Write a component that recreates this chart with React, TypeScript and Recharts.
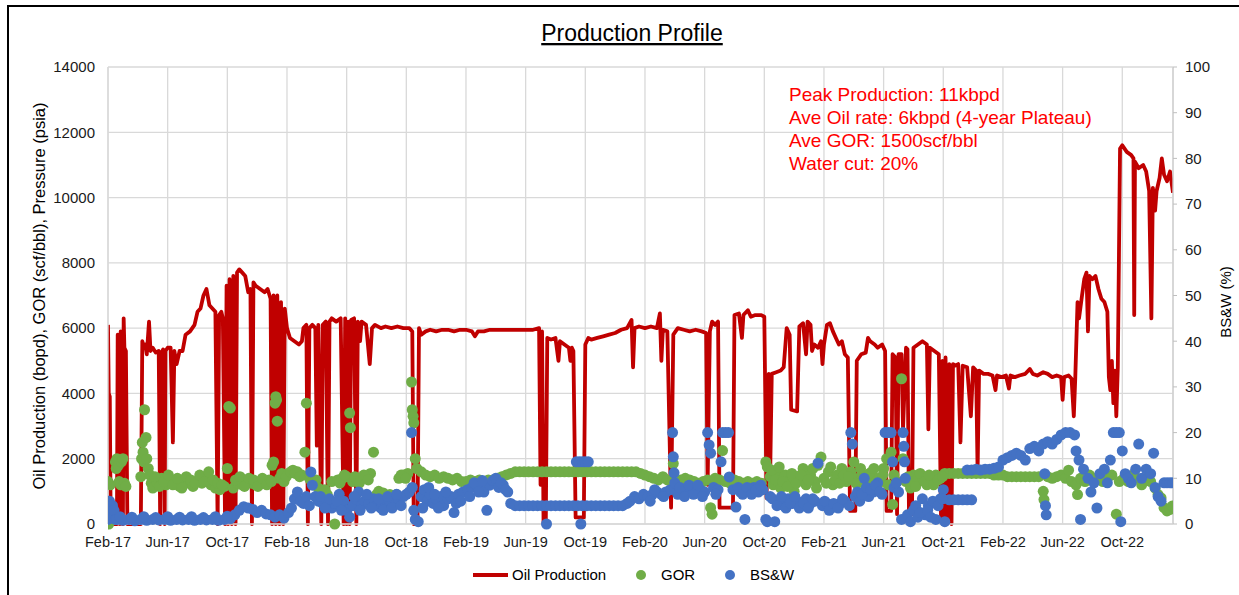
import React from 'react';
import { ComposedChart, Line, Scatter, XAxis, YAxis, CartesianGrid } from 'recharts';

// x values are months counted from Feb-17
const monthTicks = [0, 4, 8, 12, 16, 20, 24, 28, 32, 36, 40, 44, 48, 52, 56, 60, 64, 68];
const monthLabels = [
  'Feb-17', 'Jun-17', 'Oct-17', 'Feb-18', 'Jun-18', 'Oct-18', 'Feb-19', 'Jun-19', 'Oct-19',
  'Feb-20', 'Jun-20', 'Oct-20', 'Feb-21', 'Jun-21', 'Oct-21', 'Feb-22', 'Jun-22', 'Oct-22',
];
const leftTicks = [0, 2000, 4000, 6000, 8000, 10000, 12000, 14000];
const rightTicks = [0, 10, 20, 30, 40, 50, 60, 70, 80, 90, 100];

// Oil production (bopd)
const oilProduction = [
  [0, 6100], [0.05, 4000], [0.12, 3900], [0.18, 0], [0.6, 0], [0.65, 5800], [0.75, 5600], [0.8, 0],
  [0.85, 5900], [0.95, 5800], [1.0, 0], [1.05, 6300], [1.1, 5400], [1.2, 5300], [1.3, 0], [2.2, 0],
  [2.3, 5600], [2.4, 5400], [2.5, 5500], [2.6, 5200], [2.75, 6200], [2.85, 5300], [3.0, 5400], [3.2, 5250],
  [3.4, 5300], [3.5, 0], [3.55, 5200], [3.7, 5350], [3.8, 0], [3.85, 5300], [4.0, 5400], [4.2, 5400],
  [4.35, 2500], [4.45, 5300], [4.6, 4900], [4.8, 5300], [5.0, 5300], [5.2, 5800], [5.5, 5900], [5.8, 6100],
  [6.0, 6500], [6.2, 6600], [6.4, 7000], [6.6, 7200], [6.8, 6700], [7.0, 6600], [7.2, 6500], [7.35, 0],
  [7.45, 6400], [7.6, 6500], [7.7, 6300], [7.85, 0], [7.95, 7300], [8.05, 0], [8.15, 7500], [8.3, 0],
  [8.4, 7600], [8.55, 0], [8.65, 7700], [8.8, 7800], [9.0, 7700], [9.2, 7600], [9.4, 7100], [9.55, 7200],
  [9.65, 0], [9.75, 7400], [9.9, 7300], [10.2, 7200], [10.5, 7100], [10.7, 7200], [10.9, 6900], [11.0, 0],
  [11.1, 7000], [11.25, 0], [11.35, 7000], [11.5, 0], [11.6, 6800], [11.75, 0], [11.85, 6600], [12.0, 6000],
  [12.2, 5700], [12.5, 5600], [12.8, 5500], [13.0, 5600], [13.1, 6000], [13.3, 6100], [13.4, 0], [13.5, 6000],
  [13.7, 6100], [13.9, 6000], [14.0, 2400], [14.1, 6100], [14.3, 0], [14.4, 6100], [14.6, 6200], [14.75, 0],
  [14.85, 6200], [15.0, 6300], [15.3, 6200], [15.6, 6300], [15.8, 0], [15.9, 6300], [16.0, 0], [16.1, 6200],
  [16.2, 0], [16.3, 6250], [16.5, 6300], [16.65, 0], [16.75, 6200], [16.9, 5600], [17.0, 6200], [17.3, 6100],
  [17.55, 4900], [17.7, 6000], [17.9, 6100], [18.3, 6000], [18.6, 6050], [19.0, 6000], [19.4, 6050], [19.8, 6000],
  [20.2, 6000], [20.4, 5900], [20.5, 0], [20.75, 0], [20.85, 6000], [21.0, 5800], [21.3, 5900], [21.6, 5950],
  [22.0, 5900], [22.4, 5950], [22.8, 5950], [23.2, 5900], [23.6, 5950], [24.0, 5950], [24.4, 5900], [24.6, 5750],
  [24.8, 5900], [25.2, 5900], [25.6, 5950], [26.0, 5950], [26.5, 5950], [27.0, 5950], [27.5, 5950], [28.0, 5950],
  [28.5, 5950], [28.9, 6000], [29.0, 1200], [29.1, 5900], [29.2, 0], [29.35, 0], [29.45, 5700], [29.7, 5650],
  [30.0, 5700], [30.2, 5000], [30.3, 5600], [30.6, 5500], [30.9, 5400], [31.0, 5000], [31.1, 5400], [31.2, 5300],
  [31.35, 200], [31.9, 200], [32.0, 5500], [32.2, 5700], [32.4, 5650], [32.8, 5700], [33.2, 5750], [33.6, 5800],
  [34.0, 5850], [34.4, 5950], [34.8, 6000], [35.1, 6250], [35.2, 4800], [35.3, 6000], [35.6, 6050], [36.0, 6000],
  [36.4, 6050], [36.8, 6000], [37.0, 6450], [37.1, 5000], [37.2, 5950], [37.5, 5900], [37.75, 500], [37.9, 5800],
  [38.2, 6000], [38.6, 5950], [39.0, 5900], [39.4, 5950], [39.8, 5900], [40.1, 5850], [40.2, 1200], [40.35, 5900],
  [40.5, 6200], [40.7, 6100], [40.9, 6200], [41.0, 500], [41.9, 500], [42.0, 6400], [42.3, 6450], [42.5, 5700],
  [42.6, 6400], [42.9, 6550], [43.1, 6350], [43.4, 6400], [43.8, 6400], [44.0, 6350], [44.15, 800], [44.3, 4600],
  [44.4, 1700], [44.5, 4600], [44.8, 4650], [45.1, 4700], [45.3, 4800], [45.5, 6000], [45.7, 5800], [45.8, 3500],
  [46.2, 3450], [46.35, 6050], [46.6, 6150], [46.8, 5200], [46.9, 6200], [47.1, 6100], [47.2, 5300], [47.35, 5500],
  [47.6, 5400], [47.8, 5600], [47.9, 4900], [48.0, 5500], [48.2, 6100], [48.4, 6150], [48.6, 5900], [48.8, 5700],
  [49.0, 5500], [49.2, 5600], [49.4, 5200], [49.6, 5100], [49.75, 400], [50.1, 400], [50.2, 5000], [50.5, 5200],
  [50.8, 5250], [50.95, 5700], [51.1, 5600], [51.4, 5500], [51.6, 5400], [51.9, 5500], [52.1, 5300], [52.2, 400],
  [52.5, 400], [52.6, 5200], [52.8, 5100], [52.9, 300], [53.0, 5200], [53.2, 5200], [53.3, 2900], [53.5, 5400],
  [53.6, 5350], [53.7, 300], [53.9, 300], [54.0, 5400], [54.3, 5500], [54.6, 5600], [54.9, 5500], [55.0, 2900],
  [55.1, 5400], [55.4, 5300], [55.7, 5200], [55.85, 100], [55.95, 5000], [56.05, 0], [56.15, 5100], [56.3, 100],
  [56.4, 4900], [56.55, 0], [56.65, 4900], [56.8, 4850], [57.0, 4900], [57.15, 2500], [57.3, 4850], [57.6, 4800],
  [57.85, 3300], [58.0, 4800], [58.2, 4700], [58.3, 1600], [58.4, 4700], [58.7, 4600], [59.0, 4600], [59.3, 4550],
  [59.5, 4100], [59.6, 4550], [59.9, 4500], [60.2, 4550], [60.4, 4150], [60.5, 4550], [60.8, 4500], [61.1, 4550],
  [61.5, 4600], [61.8, 4750], [62.0, 4600], [62.3, 4550], [62.7, 4650], [63.0, 4600], [63.3, 4500], [63.6, 4550],
  [63.9, 4500], [64.0, 3800], [64.1, 4500], [64.4, 4550], [64.6, 4450], [64.75, 3300], [64.85, 4500], [65.0, 6800],
  [65.1, 6300], [65.3, 7000], [65.45, 7500], [65.6, 7700], [65.7, 5900], [65.8, 7600], [66.0, 7500], [66.2, 7600],
  [66.4, 7200], [66.6, 6900], [66.8, 6800], [67.0, 6500], [67.1, 4500], [67.2, 4100], [67.3, 5000], [67.4, 3700],
  [67.5, 4700], [67.6, 3300], [67.7, 4800], [67.85, 11500], [68.0, 11600], [68.3, 11400], [68.6, 11300], [68.75, 11200],
  [68.8, 6400], [68.85, 11100], [69.1, 10900], [69.4, 11000], [69.6, 10800], [69.8, 10200], [69.95, 6300], [70.05, 10300],
  [70.2, 9600], [70.3, 10200], [70.5, 10600], [70.65, 11200], [70.8, 10700], [71.0, 10500], [71.2, 10800], [71.4, 10150],
];

// GOR (scf/bbl)
const gor = [
  [0, 1300], [0.05, 0], [0.15, 1200], [0.5, 1900], [0.55, 1700], [0.6, 2000], [0.7, 1800], [0.75, 1300],
  [0.85, 1200], [0.9, 1900], [1.0, 2000], [1.1, 1250], [1.2, 1150], [2.2, 1450], [2.25, 2000], [2.3, 2500],
  [2.35, 2200], [2.4, 1900], [2.45, 3500], [2.55, 2650], [2.6, 2000], [2.7, 1700], [2.8, 1500], [2.9, 1250],
  [3.0, 1100], [3.3, 1250], [3.6, 1400], [3.9, 1200], [4.2, 1350], [4.5, 1250], [4.8, 1150], [5.1, 1300],
  [5.4, 1250], [5.7, 1150], [6.0, 1300], [6.3, 1250], [6.6, 1450], [6.9, 1200], [7.2, 1100], [7.5, 1050],
  [7.8, 1150], [8.0, 1700], [8.1, 3600], [8.2, 3550], [8.4, 1100], [8.7, 1250], [9.0, 1200], [9.3, 1300],
  [9.6, 1250], [9.9, 1200], [10.2, 1300], [10.5, 1250], [10.8, 1350], [11.0, 1800], [11.1, 1900], [11.2, 3700],
  [11.25, 3900], [11.3, 3800], [11.35, 3150], [11.5, 1400], [11.8, 1300], [12.1, 1550], [12.4, 1650], [12.7, 1600],
  [13.0, 1500], [13.2, 2200], [13.3, 3700], [13.5, 1400], [13.8, 1200], [14.1, 1100], [14.4, 950], [14.7, 900],
  [15.0, 1300], [15.2, 0], [15.4, 1350], [15.7, 1400], [16.0, 1450], [16.2, 3400], [16.25, 2950], [16.4, 1300],
  [16.7, 1350], [17.0, 1400], [17.3, 1450], [17.6, 1550], [17.8, 2200], [18.0, 900], [18.3, 850], [18.6, 800],
  [18.9, 900], [19.2, 800], [19.5, 1400], [19.8, 1500], [20.1, 1550], [20.35, 4350], [20.4, 3500], [20.45, 3300],
  [20.5, 3100], [20.6, 2000], [20.7, 1700], [21.0, 1600], [21.3, 1500], [21.6, 1450], [21.9, 1500], [22.2, 1400],
  [22.5, 1450], [22.8, 1400], [23.1, 1350], [23.4, 1400], [23.7, 1300], [24.0, 1300], [24.3, 1350], [24.6, 1300],
  [24.9, 1350], [25.2, 1300], [25.5, 1350], [25.8, 1350], [26.1, 1400], [26.4, 1450], [26.7, 1500], [27.0, 1550],
  [27.3, 1600], [27.6, 1600], [27.9, 1600], [28.2, 1600], [28.5, 1600], [28.8, 1600], [29.1, 1600], [29.4, 1600],
  [29.7, 1600], [30.0, 1600], [30.3, 1600], [30.6, 1600], [30.9, 1600], [31.2, 1600], [31.5, 1600], [31.8, 1600],
  [32.1, 1600], [32.4, 1600], [32.7, 1600], [33.0, 1600], [33.3, 1600], [33.6, 1600], [33.9, 1600], [34.2, 1600],
  [34.5, 1600], [34.8, 1600], [35.1, 1600], [35.4, 1600], [35.7, 1550], [36.0, 1500], [36.3, 1450], [36.6, 1400],
  [36.9, 1350], [37.2, 1450], [37.5, 1350], [37.8, 1300], [37.9, 1850], [38.1, 1200], [38.4, 1350], [38.7, 1400],
  [39.0, 1350], [39.3, 1300], [39.6, 1250], [39.9, 1300], [40.2, 1350], [40.4, 500], [40.5, 300], [40.7, 1400],
  [41.0, 1350], [41.2, 2250], [41.4, 1300], [41.7, 1250], [42.0, 1350], [42.3, 1300], [42.6, 1250], [42.9, 1300],
  [43.2, 1250], [43.5, 1300], [43.8, 1250], [44.1, 1900], [44.2, 1750], [44.4, 1450], [44.6, 1200], [44.9, 1600],
  [45.1, 1100], [45.4, 1500], [45.7, 1300], [46.0, 1000], [46.3, 1400], [46.6, 1700], [46.8, 1200], [47.1, 1500],
  [47.4, 1300], [47.6, 1800], [47.8, 2050], [48.0, 1400], [48.3, 1600], [48.6, 1200], [48.9, 1500], [49.2, 1700],
  [49.5, 1300], [49.8, 1600], [50.0, 1900], [50.3, 1400], [50.6, 1500], [50.9, 1300], [51.2, 1600], [51.5, 1400],
  [51.8, 1300], [52.0, 1700], [52.2, 2000], [52.3, 1200], [52.5, 2200], [52.6, 600], [52.7, 1500], [52.9, 1300],
  [53.2, 4450], [53.3, 2000], [53.5, 1300], [53.8, 1100], [54.0, 1500], [54.3, 1300], [54.6, 1400], [54.9, 1200],
  [55.2, 1350], [55.5, 1500], [55.8, 1400], [56.1, 1550], [56.4, 1550], [56.7, 1550], [57.0, 1550], [57.3, 1550],
  [57.6, 1550], [57.9, 1550], [58.2, 1550], [58.5, 1550], [58.8, 1550], [59.1, 1550], [59.4, 1500], [59.7, 1500],
  [60.0, 1500], [60.3, 1450], [60.6, 1450], [60.9, 1450], [61.2, 1450], [61.5, 1450], [61.8, 1450], [62.1, 1450],
  [62.4, 1450], [62.7, 1000], [62.75, 750], [63.0, 1450], [63.3, 1400], [63.6, 1450], [63.9, 1500], [64.2, 1400],
  [64.4, 1650], [64.6, 1300], [64.9, 1200], [65.0, 900], [65.2, 1400], [65.5, 1300], [65.8, 1500], [66.1, 1350],
  [66.4, 1450], [66.7, 1300], [67.0, 1400], [67.3, 1500], [67.6, 300], [67.8, 1300], [68.1, 1400], [68.4, 1300],
  [68.7, 1500], [69.0, 1400], [69.3, 1200], [69.6, 1400], [69.9, 1300], [70.2, 1100], [70.4, 900], [70.6, 800],
  [70.8, 500], [71.0, 400], [71.2, 450], [71.35, 550],
  [3.15, 1450], [3.45, 1150], [3.75, 1300], [4.05, 1500], [4.35, 1200], [4.65, 1400], [4.95, 1100], [5.25, 1450],
  [5.55, 1350], [5.85, 1250], [6.15, 1500], [6.45, 1300], [6.75, 1600], [7.05, 1350], [7.35, 1250], [7.65, 1200],
  [8.55, 1350], [8.85, 1450], [9.15, 1150], [9.45, 1400], [9.75, 1350], [10.05, 1150], [10.35, 1400], [10.65, 1200],
  [10.95, 1300], [11.65, 1550], [11.95, 1450], [12.25, 1600], [12.55, 1550], [12.85, 1450], [13.65, 1300], [13.95, 1350],
  [14.25, 1000], [14.55, 1050], [15.55, 1250], [15.85, 1500], [16.55, 1450], [16.85, 1250], [17.15, 1500], [17.45, 1350],
  [18.15, 1000], [18.45, 950], [18.75, 850], [19.05, 750], [19.35, 900], [19.65, 1500], [19.95, 1400],
  [44.5, 1650], [44.75, 1350], [45.0, 1750], [45.25, 1300], [45.55, 1150], [45.85, 1550], [46.15, 1250], [46.45, 1500],
  [46.95, 1350], [47.25, 1700], [47.5, 1100], [48.15, 1250], [48.45, 1750], [48.75, 1350], [49.05, 1250], [49.35, 1500],
  [49.65, 1450], [50.15, 1250], [50.45, 1700], [50.75, 1200], [51.05, 1550], [51.35, 1700], [51.65, 1250], [51.95, 1500],
  [53.65, 1450], [53.95, 1300], [54.15, 1150], [54.45, 1550], [54.75, 1300], [55.05, 1500], [55.35, 1200], [55.65, 1350],
  [55.95, 1450],
];

// BS&W (%)
const bsw = [
  [0, 1], [0.05, 3.7], [0.1, 5], [0.15, 2], [0.3, 4], [0.4, 3], [0.5, 1], [0.6, 1], [1.0, 0.8], [1.4, 1],
  [1.8, 0.7], [2.2, 1], [2.6, 0.8], [3.0, 1], [3.4, 0.9], [3.8, 1], [4.2, 0.8], [4.6, 1], [5.0, 0.9], [5.4, 1],
  [5.8, 0.8], [6.2, 1], [6.6, 0.9], [7.0, 1], [7.4, 0.8], [7.8, 1], [8.2, 1.2], [8.5, 2], [8.8, 3], [9.1, 3.8],
  [9.4, 3.5], [9.7, 3.2], [10.0, 2.5], [10.3, 3.0], [10.6, 2.2], [10.9, 2.0], [11.2, 1.5], [11.5, 2.0], [11.8, 1.3],
  [12.1, 2.5], [12.3, 3.5], [12.5, 5.5], [12.7, 7.0], [12.9, 5.0], [13.1, 4.5], [13.3, 6.0], [13.5, 4.0], [13.6, 11.4],
  [13.7, 8.5], [13.9, 6.0], [14.1, 5.0], [14.4, 4.5], [14.7, 5.0], [15.0, 3.5], [15.2, 4.5], [15.5, 6.5], [15.8, 5.0],
  [16.0, 3.0], [16.2, 1.5], [16.4, 4.0], [16.6, 5.5], [16.8, 7.0], [17.0, 4.0], [17.2, 5.0], [17.5, 4.5], [17.8, 5.5],
  [18.0, 4.0], [18.3, 3.5], [18.6, 4.5], [18.9, 5.0], [19.2, 5.5], [19.5, 5.0], [19.8, 6.0], [20.0, 6.5], [20.2, 7.0],
  [20.35, 20], [20.4, 8.0], [20.5, 3.0], [20.6, 1.0], [20.8, 0.5], [21.0, 6.0], [21.2, 7.5], [21.4, 5.0], [21.6, 6.5],
  [21.8, 4.5], [22.0, 5.5], [22.3, 6.0], [22.5, 4.0], [22.8, 5.5], [23.0, 6.0], [23.2, 2.5], [23.5, 6.5], [23.8, 7.0],
  [24.1, 7.5], [24.4, 8.0], [24.7, 8.5], [25.0, 9.0], [25.2, 7.0], [25.4, 3.0], [25.6, 8.5], [25.8, 9.5], [26.0, 10.0],
  [26.2, 8.0], [26.5, 8.5], [26.8, 7.0], [27.0, 4.5], [27.3, 4], [27.6, 4], [27.9, 4], [28.2, 4], [28.5, 4], [28.8, 4],
  [29.1, 4], [29.4, 0], [29.4, 4], [29.7, 4], [30.0, 4], [30.3, 4], [30.6, 4], [30.9, 4], [31.2, 4], [31.4, 13.6],
  [31.6, 13.6], [31.7, 0], [31.8, 13.6], [32.0, 13.6], [32.2, 13.6], [31.5, 4], [31.8, 4], [32.1, 4], [32.4, 4],
  [32.7, 4], [33.0, 4], [33.3, 4], [33.6, 4], [33.9, 4], [34.2, 4], [34.5, 4], [34.8, 4.5], [35.0, 5.0], [35.3, 6.0],
  [35.6, 5.5], [35.9, 6.5], [36.2, 6.0], [36.5, 6.5], [36.8, 7.0], [37.1, 6.5], [37.4, 7.0], [37.7, 7.5], [37.85, 20],
  [37.9, 14.7], [37.95, 11.2], [38.0, 9.0], [38.2, 6.5], [38.5, 7.5], [38.8, 7.0], [39.1, 7.5], [39.4, 8.0], [39.7, 7.5],
  [40.0, 7.0], [40.2, 20], [40.3, 17.3], [40.4, 15.5], [40.6, 8.0], [40.9, 7.5], [41.1, 13.6], [41.2, 20], [41.4, 20],
  [41.6, 20], [41.65, 10.3], [41.9, 7.5], [42.1, 3.7], [42.4, 7.0], [42.7, 1.0], [43.0, 7.5], [43.3, 8.0], [43.6, 7.0],
  [43.9, 7.5], [44.1, 1.0], [44.2, 0.5], [44.4, 6.0], [44.7, 0.5], [45.0, 5.0], [45.3, 4.0], [45.6, 5.5], [45.9, 4.5],
  [46.2, 5.0], [46.5, 4.0], [46.8, 5.5], [47.1, 4.5], [47.4, 5.0], [47.6, 13.3], [47.9, 4.0], [48.2, 4.5], [48.5, 3.5],
  [48.8, 4.0], [49.1, 4.5], [49.4, 5.0], [49.7, 4.0], [49.8, 20], [49.9, 17.5], [50.1, 6.0], [50.4, 5.0], [50.7, 10.0],
  [51.0, 6.0], [51.3, 7.0], [51.6, 9.0], [51.9, 6.5], [52.1, 20], [52.3, 20], [52.5, 20], [52.6, 13.6], [52.7, 8.0],
  [53.0, 7.0], [53.2, 1.0], [53.3, 20], [53.35, 17], [53.4, 13.6], [53.45, 10], [53.6, 2.0], [53.8, 0.5], [54.0, 3.0],
  [54.3, 1.5], [54.6, 5.5], [54.8, 2.0], [55.0, 4.0], [55.3, 5.0], [55.5, 1.0], [55.8, 5.5], [56.0, 7.5], [56.1, 0.5],
  [56.4, 5.3], [56.7, 5.3], [57.0, 5.3], [57.3, 5.3], [57.6, 5.3], [57.9, 5.3], [57.6, 11.8], [57.9, 11.8], [58.2, 12.0],
  [58.5, 11.8], [58.8, 12.0], [59.1, 12.0], [59.4, 12.2], [59.7, 12.5], [60.0, 14.0], [60.3, 14.5], [60.6, 15.0],
  [60.9, 15.5], [61.2, 15.0], [61.5, 14.0], [61.8, 16.5], [62.1, 17.0], [62.4, 16.0], [62.7, 17.5], [62.8, 11.0],
  [62.85, 4.0], [62.9, 2.0], [63.0, 18.0], [63.3, 17.5], [63.6, 18.5], [63.9, 19.5], [64.2, 20], [64.5, 20], [64.8, 19.5],
  [64.9, 16.0], [65.1, 14.0], [65.2, 1.0], [65.4, 12.0], [65.7, 10.0], [65.9, 7.0], [66.1, 9.0], [66.3, 3.5], [66.5, 11.0],
  [66.8, 12.0], [67.0, 9.0], [67.2, 14.0], [67.4, 20], [67.6, 20], [67.8, 20], [67.9, 0.5], [68.0, 16.0], [68.2, 11.0],
  [68.4, 10.0], [68.6, 9.0], [68.9, 12.0], [69.1, 17.5], [69.3, 10.0], [69.6, 12.0], [69.9, 11.0], [70.1, 15.5],
  [70.2, 8.0], [70.4, 6.0], [70.6, 5.0], [70.8, 9.0], [71.0, 9.0], [71.2, 9.0], [71.4, 9.0],
  [0.8, 1.6], [1.6, 1.5], [2.4, 1.6], [3.2, 1.4], [4.0, 1.6], [4.8, 1.5], [5.6, 1.6], [6.4, 1.4], [7.2, 1.6], [8.0, 1.7],
  [14.25, 6.0], [14.55, 3.5], [14.85, 5.5], [15.35, 5.0], [15.65, 3.0], [16.5, 6.0], [16.9, 3.0], [17.35, 6.5],
  [17.65, 3.5], [18.15, 5.5], [18.45, 3.0], [18.75, 6.0], [19.05, 3.5], [19.35, 6.5], [19.65, 4.0], [21.1, 3.5],
  [21.5, 8.0], [21.9, 6.5], [22.15, 3.5], [22.65, 7.0], [23.35, 4.5], [23.65, 5.0], [24.25, 6.0], [24.55, 9.0],
  [24.85, 7.0], [25.1, 9.5], [26.35, 9.0], [26.65, 7.5],
  [36.35, 5.0], [36.65, 7.5], [37.25, 6.0], [38.35, 8.0], [38.65, 6.0], [38.95, 8.5], [39.25, 6.5], [39.55, 8.5],
  [39.85, 6.0], [40.75, 6.5], [42.25, 8.0], [42.55, 6.5], [42.85, 8.0], [43.15, 6.5], [43.45, 7.5], [43.75, 8.5],
  [44.55, 5.5], [44.85, 4.0], [45.15, 6.0], [45.45, 3.5], [45.75, 4.5], [46.05, 6.0], [46.35, 3.5], [46.65, 4.5],
  [46.95, 3.5], [47.25, 5.5], [48.05, 5.0], [48.35, 3.0], [48.65, 4.5], [48.95, 3.5], [49.25, 5.5], [50.25, 7.0],
  [50.55, 6.5], [50.85, 8.0], [51.15, 7.5], [51.45, 8.5], [51.75, 7.0], [52.85, 9.0], [54.15, 4.0], [54.45, 2.5],
  [54.95, 3.0], [55.15, 1.5], [55.65, 4.0], [55.95, 5.5],
];

const notes = [
  'Peak Production: 11kbpd',
  'Ave Oil rate: 6kbpd (4-year Plateau)',
  'Ave GOR: 1500scf/bbl',
  'Water cut: 20%',
];

const FONT = '"Liberation Sans", Arial, sans-serif';
const RED = '#C00000';
const GREEN = '#70AD47';
const BLUE = '#4472C4';

const toPoints = (rows: number[][]) => rows.map(([m, v]) => ({ m, v }));

const Dot = (props: any) => {
  if (props.cx == null || props.cy == null) return null;
  return <circle cx={props.cx} cy={props.cy} r={5.5} fill={props.fill} />;
};

const tickStyle = { fill: '#1a1a1a', fontSize: 15, fontFamily: FONT };

export default function App() {
  return (
    <div style={{ position: 'absolute', left: 0, top: 0, width: 1239, height: 595, background: '#fff', overflow: 'hidden' }}>
      <div style={{ position: 'absolute', left: 7, top: 5, width: 1260, height: 640, border: '2px solid #000' }} />
      <div style={{ position: 'absolute', left: 0, top: 0 }}>
        <ComposedChart width={1239} height={595} margin={{ top: 67, right: 20, bottom: 40, left: 50 }}>
          <CartesianGrid yAxisId="left" stroke="#D9D9D9" strokeWidth={1.3} />
          <XAxis
            type="number"
            dataKey="m"
            domain={[0, 71.4]}
            ticks={monthTicks}
            allowDataOverflow
            height={31}
            tickLine={false}
            tickMargin={7}
            axisLine={{ stroke: '#D9D9D9', strokeWidth: 1.3 }}
            tickFormatter={(m: number) => monthLabels[Math.round(m / 4)]}
            tick={{ ...tickStyle, fontSize: 14.5 }}
            interval={0}
          />
          <YAxis
            yAxisId="left"
            domain={[0, 14000]}
            ticks={leftTicks}
            width={58}
            tickLine={false}
            tickMargin={7}
            axisLine={{ stroke: '#D9D9D9', strokeWidth: 1.3 }}
            tick={tickStyle}
            interval={0}
          />
          <YAxis
            yAxisId="right"
            orientation="right"
            domain={[0, 100]}
            ticks={rightTicks}
            width={46}
            tickSize={4}
            tickMargin={8}
            tickLine={{ stroke: '#BFBFBF' }}
            axisLine={{ stroke: '#D0D0D0', strokeWidth: 1.3 }}
            tick={tickStyle}
            interval={0}
          />
          <Line
            data={toPoints(oilProduction)}
            dataKey="v"
            yAxisId="left"
            type="linear"
            stroke={RED}
            strokeWidth={3.8}
            strokeLinejoin="round"
            dot={false}
            isAnimationActive={false}
          />
          <Scatter data={toPoints(gor)} dataKey="v" yAxisId="left" fill={GREEN} shape={<Dot />} isAnimationActive={false} />
          <Scatter data={toPoints(bsw)} dataKey="v" yAxisId="right" fill={BLUE} shape={<Dot />} isAnimationActive={false} />
        </ComposedChart>
      </div>
      <svg width={1239} height={595} style={{ position: 'absolute', left: 0, top: 0, pointerEvents: 'none' }} fontFamily={FONT}>
        <text x={632} y={41} textAnchor="middle" fontSize={23} fill="#000" style={{ textDecoration: 'underline' }}>
          Production Profile
        </text>
        {notes.map((line, i) => (
          <text key={line} x={789} y={101 + i * 23} fontSize={19} fill="#FF0000">
            {line}
          </text>
        ))}
        <text transform="translate(45,296) rotate(-90)" textAnchor="middle" fontSize={16.5} fill="#000">
          Oil Production (bopd), GOR (scf/bbl), Pressure (psia)
        </text>
        <text transform="translate(1231,302) rotate(-90)" textAnchor="middle" fontSize={15} fill="#000">
          BS&amp;W (%)
        </text>
        <line x1={473} y1={575} x2={508} y2={575} stroke={RED} strokeWidth={4} />
        <text x={512} y={580} fontSize={15} fill="#000">Oil Production</text>
        <circle cx={641} cy={575} r={5} fill={GREEN} />
        <text x={661} y={580} fontSize={15} fill="#000">GOR</text>
        <circle cx={730} cy={575} r={5} fill={BLUE} />
        <text x={750} y={580} fontSize={15} fill="#000">BS&amp;W</text>
      </svg>
    </div>
  );
}
